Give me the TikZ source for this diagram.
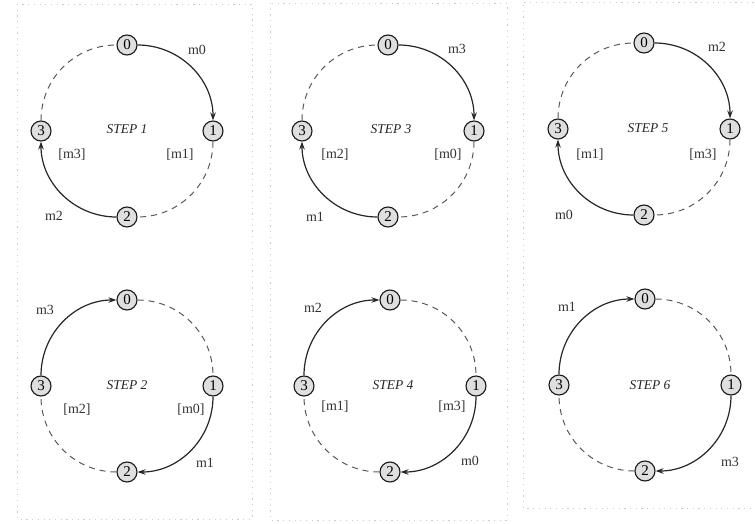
\documentclass[tikz,border=0pt]{standalone}
\usepackage{fontspec}
\setmainfont{Liberation Serif}
\usetikzlibrary{arrows.meta}
\tikzset{
  ringnode/.style={circle, draw=black!90, line width=1.1pt, fill=gray!25, inner sep=0pt, minimum size=20pt, font=\fontsize{15}{15}\selectfont},
  msg/.style={-{Stealth[length=8pt,width=5.5pt]}, line width=1.2pt, draw=black!85},
  idle/.style={dash pattern=on 6pt off 5pt, line width=1pt, draw=black!65},
  lbl/.style={font=\fontsize{14}{14}\selectfont, text=black!80, inner sep=0pt},
  steplbl/.style={font=\fontsize{13.5}{13.5}\selectfont\itshape, text=black!85},
  panel/.style={draw=gray!40, line width=0.9pt, dash pattern=on 1.2pt off 4.5pt}
}
\newcommand\ringnodes[1]{%
  \node[ringnode] (#10) at (0,-86) {0};
  \node[ringnode] (#11) at (86,0) {1};
  \node[ringnode] (#12) at (0,86) {2};
  \node[ringnode] (#13) at (-86,0) {3};
}
\begin{document}
\begin{tikzpicture}[x=1pt,y=-1pt]
\useasboundingbox (0,0) rectangle (755,524);
% panels
\draw[panel] (17,4) rectangle (252,519);
\draw[panel] (270,3) rectangle (507,520);
\draw[panel] (765,2) -- (523,2) -- (523,508) -- (765,508);

% STEP 1
\begin{scope}[shift={(127,131)}]
  \ringnodes{a}
  \node[steplbl] (a5) at (0,-2) {STEP 1};
  \draw[msg] (a0) to[bend left=45] (a1);
  \draw[idle] (a1) to[bend left=45] (a2);
  \draw[msg] (a2) to[bend left=45] (a3);
  \draw[idle] (a3) to[bend left=45] (a0);
  \node[lbl] (a6) at (70,-81) {m0};
  \node[lbl] (a7) at (53,24) {[m1]};
  \node[lbl] (a8) at (-55,24) {[m3]};
  \node[lbl] (a9) at (-73,85) {m2};
\end{scope}

% STEP 3
\begin{scope}[shift={(388,131)}]
  \ringnodes{b}
  \node[steplbl] (b5) at (3,-2) {STEP 3};
  \draw[msg] (b0) to[bend left=45] (b1);
  \draw[idle] (b1) to[bend left=45] (b2);
  \draw[msg] (b2) to[bend left=45] (b3);
  \draw[idle] (b3) to[bend left=45] (b0);
  \node[lbl] (b6) at (69,-82) {m3};
  \node[lbl] (b7) at (60,24) {[m0]};
  \node[lbl] (b8) at (-53,24) {[m2]};
  \node[lbl] (b9) at (-73,86) {m1};
\end{scope}

% STEP 5
\begin{scope}[shift={(644,129)}]
  \ringnodes{c}
  \node[steplbl] (c5) at (4,-1) {STEP 5};
  \draw[msg] (c0) to[bend left=45] (c1);
  \draw[idle] (c1) to[bend left=45] (c2);
  \draw[msg] (c2) to[bend left=45] (c3);
  \draw[idle] (c3) to[bend left=45] (c0);
  \node[lbl] (c6) at (73,-82) {m2};
  \node[lbl] (c7) at (59,26) {[m3]};
  \node[lbl] (c8) at (-54,26) {[m1]};
  \node[lbl] (c9) at (-80,86) {m0};
\end{scope}

% STEP 2
\begin{scope}[shift={(127,386)}]
  \ringnodes{d}
  \node[steplbl] (d5) at (0,-1) {STEP 2};
  \draw[idle] (d0) to[bend left=45] (d1);
  \draw[msg] (d1) to[bend left=45] (d2);
  \draw[idle] (d2) to[bend left=45] (d3);
  \draw[msg] (d3) to[bend left=45] (d0);
  \node[lbl] (d6) at (-82,-76) {m3};
  \node[lbl] (d7) at (-50,24) {[m2]};
  \node[lbl] (d8) at (64,24) {[m0]};
  \node[lbl] (d9) at (78,77) {m1};
\end{scope}

% STEP 4
\begin{scope}[shift={(390,386)}]
  \ringnodes{e}
  \node[steplbl] (e5) at (3,-1) {STEP 4};
  \draw[idle] (e0) to[bend left=45] (e1);
  \draw[msg] (e1) to[bend left=45] (e2);
  \draw[idle] (e2) to[bend left=45] (e3);
  \draw[msg] (e3) to[bend left=45] (e0);
  \node[lbl] (e6) at (-77,-78) {m2};
  \node[lbl] (e7) at (-55,21) {[m1]};
  \node[lbl] (e8) at (62,21) {[m3]};
  \node[lbl] (e9) at (80,75) {m0};
\end{scope}

% STEP 6
\begin{scope}[shift={(645,385)}]
  \ringnodes{f}
  \node[steplbl] (f5) at (5,0) {STEP 6};
  \draw[idle] (f0) to[bend left=45] (f1);
  \draw[msg] (f1) to[bend left=45] (f2);
  \draw[idle] (f2) to[bend left=45] (f3);
  \draw[msg] (f3) to[bend left=45] (f0);
  \node[lbl] (f6) at (-78,-78) {m1};
  \node[lbl] (f9) at (85,77) {m3};
\end{scope}
\end{tikzpicture}
\end{document}
